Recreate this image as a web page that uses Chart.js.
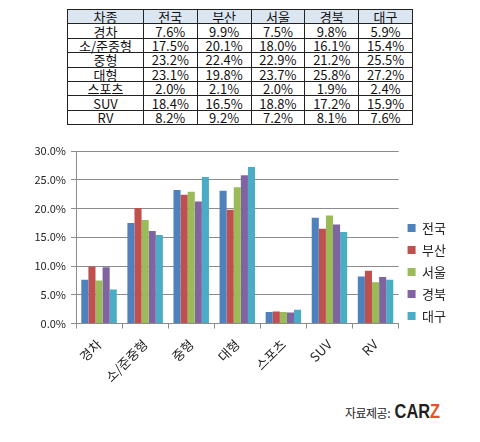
<!DOCTYPE html>
<html>
<head>
<meta charset="utf-8">
<script src="https://cdn.jsdelivr.net/npm/chart.js@4"></script>
<style>
  body { margin: 0; background: #fff; font-family: "Noto Sans CJK KR", sans-serif; }
  #tbl { position: absolute; left: 67px; top: 9px; width: 346px; border-collapse: collapse; font-size: 13px; color: #111; }
  #tbl td, #tbl th { border: 1px solid #222; padding: 0; height: 13.4px; line-height: 13px; text-align: center; font-weight: normal; }
  #tbl th { background: #dce6f1; }
  #wrap { position: absolute; left: 0; top: 135px; width: 480px; height: 260px; }
  #credit { position: absolute; left: 345px; top: 399px; white-space: nowrap; }
  #credit .src { font-size: 12px; color: #222; letter-spacing: -0.5px; }
  #credit .logo { display: inline-block; transform: scaleX(0.78); transform-origin: left; font-family: "Liberation Sans", sans-serif; font-weight: bold; font-size: 21px; color: #231f20; }
  #credit .logo span { color: #e8502a; }
</style>
</head>
<body>
<table id="tbl"></table>
<div id="wrap"><canvas id="myChart" width="480" height="260"></canvas></div>
<div id="credit"><span class="src">자료제공:</span><span class="logo">&nbsp;CAR<span>Z</span></span></div>
<script>
const categories = ["경차", "소/준중형", "중형", "대형", "스포츠", "SUV", "RV"];
const regions = ["전국", "부산", "서울", "경북", "대구"];
const colors = ["#4f81bd", "#c0504d", "#9bbb59", "#8064a2", "#4bacc6"];

const nationwide = [7.6, 17.5, 23.2, 23.1, 2.0, 18.4, 8.2];
const busan = [9.9, 20.1, 22.4, 19.8, 2.1, 16.5, 9.2];
const seoul = [7.5, 18.0, 22.9, 23.7, 2.0, 18.8, 7.2];
const gyeongbuk = [9.8, 16.1, 21.2, 25.8, 1.9, 17.2, 8.1];
const daegu = [5.9, 15.4, 25.5, 27.2, 2.4, 15.9, 7.6];

const series = [nationwide, busan, seoul, gyeongbuk, daegu];

// table above the chart
const tbl = document.getElementById("tbl");
let html = "<tr><th>차종</th>" + regions.map(r => "<th>" + r + "</th>").join("") + "</tr>";
categories.forEach((c, i) => {
    html += "<tr><td>" + c + "</td>" + series.map(s => "<td>" + s[i].toFixed(1) + "%</td>").join("") + "</tr>";
});
tbl.innerHTML = html;

const ctx = document.getElementById("myChart").getContext("2d");
const font = "'Noto Sans CJK KR', sans-serif";

const myChart = new Chart(ctx, {
    type: "bar",
    data: {
        labels: categories,
        datasets: regions.map((r, i) => ({
            label: r,
            data: series[i],
            backgroundColor: colors[i],
            borderWidth: 0,
            categoryPercentage: 0.77,
            barPercentage: 1.0
        })),
    },
    options: {
        responsive: false,
        animation: false,
        devicePixelRatio: 1,
        layout: { padding: { left: 0, right: 24, top: 16, bottom: 2 } },
        plugins: {
            tooltip: { enabled: false },
            legend: {
                position: "right",
                align: "center",
                labels: {
                    boxWidth: 8,
                    boxHeight: 8,
                    padding: 9,
                    color: "#222",
                    font: { family: font, size: 13 }
                }
            }
        },
        scales: {
            y: {
                min: 0,
                max: 30,
                ticks: {
                    stepSize: 5,
                    padding: 5,
                    color: "#222",
                    font: { family: font, size: 11 },
                    callback: v => v.toFixed(1) + "%"
                },
                grid: { color: "#8c8c8c", tickLength: 5 },
                border: { color: "#8c8c8c" },
                afterFit: scale => { scale.width = 76; }
            },
            x: {
                ticks: {
                    minRotation: 45,
                    maxRotation: 45,
                    padding: 8,
                    color: "#222",
                    font: { family: font, size: 13 }
                },
                grid: { drawOnChartArea: false, color: "#8c8c8c", tickLength: 5 },
                border: { color: "#8c8c8c" }
            }
        },
    },
});
</script>
</body>
</html>
